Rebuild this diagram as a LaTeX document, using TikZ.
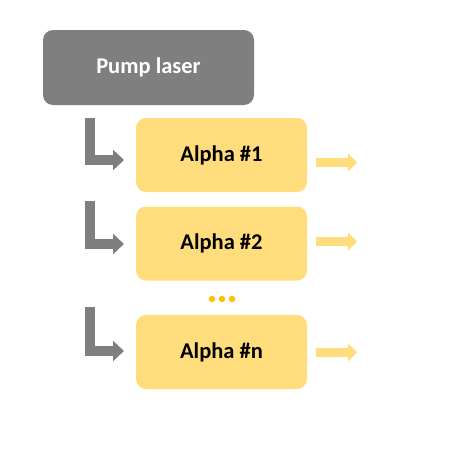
\documentclass[tikz,border=0pt]{standalone}
\usepackage{fontspec}
\setmainfont{Carlito}
\usetikzlibrary{arrows.meta}
\definecolor{pumpgray}{HTML}{7F7F7F}
\definecolor{alphafill}{HTML}{FFDC7C}
\definecolor{dotgold}{HTML}{FFC000}
\tikzset{
  pumpbox/.style={fill=pumpgray, draw=none, rounded corners=10pt, minimum width=211pt, minimum height=75pt, text=white, font=\fontsize{22.5}{26}\selectfont\bfseries, inner sep=0pt},
  alphabox/.style={fill=alphafill, draw=none, rounded corners=10pt, minimum width=171pt, minimum height=74pt, text=black, font=\fontsize{22.5}{26}\selectfont\bfseries, inner sep=0pt},
  feedarrow/.style={draw=pumpgray, line width=10pt, line join=miter, -{Triangle[width=20pt,length=11pt]}},
  outarrow/.style={draw=alphafill, line width=9pt, -{Triangle[width=18pt,length=9pt]}},
  dot/.style={circle, fill=dotgold, draw=none, minimum size=6.5pt, inner sep=0pt}
}
\begin{document}
\begin{tikzpicture}[x=1pt,y=-1pt]
\useasboundingbox (0,0) rectangle (455,455);
\node[pumpbox] (pump) at (148.5,67.5) {Pump laser};
\node[alphabox] (a1) at (221.5,155) {Alpha \#1};
\node[alphabox] (a2) at (221.5,243.5) {Alpha \#2};
\node[alphabox] (an) at (221.5,352) {Alpha \#n};
% feed arrows
\coordinate (f1s) at (90,118);
\coordinate (f1e) at (124,160);
\coordinate (f2s) at (90,201);
\coordinate (f2e) at (124,244);
\coordinate (f3s) at (90,307);
\coordinate (f3e) at (124,351);
\draw[feedarrow] (f1s) |- (f1e);
\draw[feedarrow] (f2s) |- (f2e);
\draw[feedarrow] (f3s) |- (f3e);
% output arrows
\coordinate (o1s) at (316,162.5);
\coordinate (o1e) at (357,162.5);
\coordinate (o2s) at (316,241.5);
\coordinate (o2e) at (357,241.5);
\coordinate (o3s) at (316,352.5);
\coordinate (o3e) at (357,352.5);
\draw[outarrow] (o1s) -- (o1e);
\draw[outarrow] (o2s) -- (o2e);
\draw[outarrow] (o3s) -- (o3e);
% dots
\node[dot] (d1) at (212,299) {};
\node[dot] (d2) at (222,299) {};
\node[dot] (d3) at (232,299) {};
\end{tikzpicture}
\end{document}
